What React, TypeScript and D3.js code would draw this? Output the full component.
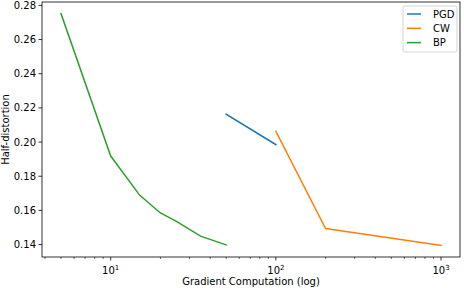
import { useMemo } from "react";
import * as d3 from "d3";

const WIDTH = 464;
const HEIGHT = 288;
const MARGIN = { top: 2, right: 4, bottom: 31, left: 42 };

const PGD_X = [50, 100];
const PGD_Y = [0.2163, 0.1985];
const CW_X = [100, 200, 1000];
const CW_Y = [0.2063, 0.1494, 0.1395];
const BP_X = [5, 10, 15, 20, 25, 35, 50];
const BP_Y = [0.2752, 0.1918, 0.1688, 0.1585, 0.1536, 0.1449, 0.1398];

const SERIES = [
  { name: "PGD", color: "#1f77b4", xs: PGD_X, ys: PGD_Y },
  { name: "CW", color: "#ff7f0e", xs: CW_X, ys: CW_Y },
  { name: "BP", color: "#2ca02c", xs: BP_X, ys: BP_Y },
];

const Y_TICKS = [0.14, 0.16, 0.18, 0.2, 0.22, 0.24, 0.26, 0.28];
const X_TICKS = [10, 100, 1000];
const FONT = "DejaVu Sans, sans-serif";

export default function App() {
  const boundsWidth = WIDTH - MARGIN.left - MARGIN.right;
  const boundsHeight = HEIGHT - MARGIN.top - MARGIN.bottom;

  const xScale = useMemo(() => {
    const all = SERIES.flatMap((s) => s.xs);
    const lo = Math.log10(d3.min(all)!);
    const hi = Math.log10(d3.max(all)!);
    const pad = (hi - lo) * 0.05;
    return d3
      .scaleLog()
      .domain([10 ** (lo - pad), 10 ** (hi + pad)])
      .range([0, boundsWidth]);
  }, [boundsWidth]);

  const yScale = useMemo(() => {
    const all = SERIES.flatMap((s) => s.ys);
    const lo = d3.min(all)!;
    const hi = d3.max(all)!;
    const pad = (hi - lo) * 0.05;
    return d3.scaleLinear().domain([lo - pad, hi + pad]).range([boundsHeight, 0]);
  }, [boundsHeight]);

  const line = d3
    .line<[number, number]>()
    .x((d) => xScale(d[0]))
    .y((d) => yScale(d[1]));

  const [xmin, xmax] = xScale.domain();
  const minorTicks: number[] = [];
  for (let e = 0; e <= 3; e++) {
    for (let m = 2; m <= 9; m++) {
      const v = m * 10 ** e;
      if (v >= xmin && v <= xmax) minorTicks.push(v);
    }
  }

  return (
    <div style={{ position: "absolute", left: 0, top: 0 }}>
      <svg width={WIDTH} height={HEIGHT} style={{ display: "block", fontFamily: FONT }}>
        <rect width={WIDTH} height={HEIGHT} fill="#fff" />
        <g transform={`translate(${MARGIN.left},${MARGIN.top})`}>
          {SERIES.map((s) => (
            <path
              key={s.name}
              d={line(s.xs.map((x, i) => [x, s.ys[i]]) as [number, number][]) || ""}
              fill="none"
              stroke={s.color}
              strokeWidth={1.5}
              strokeLinecap="square"
            />
          ))}

          {/* y axis */}
          {Y_TICKS.map((t) => (
            <g key={t} transform={`translate(0,${yScale(t)})`}>
              <line x1={-3.5} x2={0} stroke="#000" strokeWidth={0.8} />
              <text x={-6} dy="0.35em" textAnchor="end" fontSize={10} fill="#000">
                {t.toFixed(2)}
              </text>
            </g>
          ))}

          {/* x axis */}
          {minorTicks.map((t) => (
            <line
              key={"m" + t}
              x1={xScale(t)}
              x2={xScale(t)}
              y1={boundsHeight}
              y2={boundsHeight + 2}
              stroke="#000"
              strokeWidth={0.6}
            />
          ))}
          {X_TICKS.map((t) => (
            <g key={t} transform={`translate(${xScale(t)},${boundsHeight})`}>
              <line y1={0} y2={3.5} stroke="#000" strokeWidth={0.8} />
              <text y={17} textAnchor="middle" fontSize={10} fill="#000">
                10
                <tspan dy={-4} fontSize={7}>
                  {Math.round(Math.log10(t))}
                </tspan>
              </text>
            </g>
          ))}

          <rect
            width={boundsWidth}
            height={boundsHeight}
            fill="none"
            stroke="#000"
            strokeWidth={0.8}
          />

          <text
            x={boundsWidth / 2}
            y={boundsHeight + 28}
            textAnchor="middle"
            fontSize={10}
            fill="#000"
          >
            Gradient Computation (log)
          </text>
          <text
            transform={`translate(${-33},${boundsHeight / 2}) rotate(-90)`}
            textAnchor="middle"
            fontSize={10}
            fill="#000"
          >
            Half-distortion
          </text>

          {/* legend */}
          <g transform={`translate(${boundsWidth - 57},4)`}>
            <rect
              width={54}
              height={46}
              rx={2}
              fill="#fff"
              fillOpacity={0.8}
              stroke="#ccc"
              strokeWidth={0.8}
            />
            {SERIES.map((s, i) => (
              <g key={s.name} transform={`translate(0,${8 + i * 14.3})`}>
                <line x1={4} x2={18} stroke={s.color} strokeWidth={1.5} />
                <text x={30} dy="0.35em" fontSize={10} fill="#000">
                  {s.name}
                </text>
              </g>
            ))}
          </g>
        </g>
      </svg>
    </div>
  );
}
